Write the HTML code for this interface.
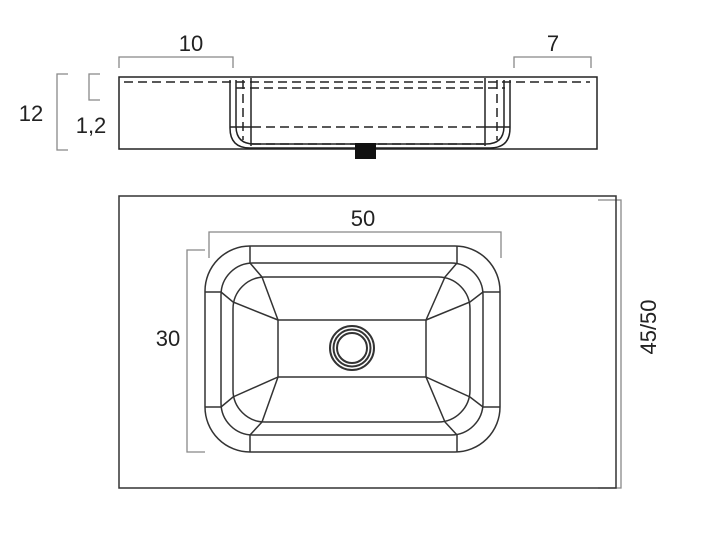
<!DOCTYPE html>
<html><head><meta charset="utf-8"><style>
html,body{margin:0;padding:0;background:#fff}
svg{display:block}
text{font-family:"Liberation Sans",sans-serif;fill:#222}
</style></head><body>
<svg width="720" height="540" viewBox="0 0 720 540" xmlns="http://www.w3.org/2000/svg">
<g fill="none" stroke="#888" stroke-width="1.3">
<polyline points="119,68 119,57 233,57 233,68"/>
<polyline points="514,68 514,57 591,57 591,68"/>
<polyline points="68,74 57,74 57,150 68,150"/>
<polyline points="100,74 89,74 89,100 100,100"/>
<polyline points="209,258 209,232 501,232 501,258"/>
<polyline points="205,250 187,250 187,452 205,452"/>
<polyline points="598,200 621,200 621,488 598,488"/>
</g>
<text x="191" y="51" font-size="22" text-anchor="middle">10</text>
<text x="553" y="51" font-size="22" text-anchor="middle">7</text>
<text x="31" y="121" font-size="22" text-anchor="middle">12</text>
<text x="91" y="133" font-size="22" text-anchor="middle">1,2</text>
<text x="363" y="226" font-size="22" text-anchor="middle">50</text>
<text x="168" y="346" font-size="22" text-anchor="middle">30</text>
<text x="656" y="327" font-size="22" text-anchor="middle" transform="rotate(-90 656 327)">45/50</text>
<!-- side view -->
<g fill="none" stroke="#222" stroke-width="1.5">
<rect x="119" y="77" width="478" height="72"/>
<path d="M230,80 V128 Q230,148 250,148 H490 Q510,148 510,128 V80"/>
<path d="M236,80 V126 Q236,144 254,144 H486 Q504,144 504,126 V80"/>
<line x1="251" y1="78" x2="251" y2="146"/>
<line x1="485" y1="78" x2="485" y2="146"/>
<line x1="230" y1="127" x2="252" y2="127"/><line x1="484" y1="127" x2="510" y2="127"/>
</g>
<g fill="none" stroke="#222" stroke-width="1.5" stroke-dasharray="9,5">
<line x1="124" y1="82" x2="590" y2="82"/>
<line x1="236" y1="88" x2="505" y2="88"/>
<line x1="252" y1="127" x2="484" y2="127"/>
<line x1="252" y1="144" x2="484" y2="144"/>
<line x1="243" y1="80" x2="243" y2="140"/>
<line x1="497" y1="80" x2="497" y2="140"/>
</g>
<rect x="355" y="143" width="21" height="16" fill="#111"/>
<!-- top view -->
<g fill="none" stroke="#333" stroke-width="1.5">
<rect x="119" y="196" width="497" height="292"/>
<rect x="205" y="246" width="295" height="206" rx="45"/>
<rect x="221" y="263" width="262" height="172" rx="32"/>
<rect x="233" y="277" width="237" height="145" rx="32"/>
<path d="M278,320 L426,320 L426,377 L278,377 Z"/>
<line x1="250" y1="246" x2="250" y2="263"/><line x1="457" y1="246" x2="457" y2="263"/>
<line x1="250" y1="452" x2="250" y2="435"/><line x1="457" y1="452" x2="457" y2="435"/>
<line x1="205" y1="292" x2="221" y2="292"/><line x1="483" y1="292" x2="500" y2="292"/>
<line x1="205" y1="407" x2="221" y2="407"/><line x1="483" y1="407" x2="500" y2="407"/>
<polyline points="250,263 262,277 278,320"/>
<polyline points="221,292 233,302 278,320"/>
<polyline points="457,263 445,277 426,320"/>
<polyline points="483,292 470,302 426,320"/>
<polyline points="250,435 262,422 278,377"/>
<polyline points="221,407 233,397 278,377"/>
<polyline points="457,435 445,422 426,377"/>
<polyline points="483,407 470,397 426,377"/>
</g>
<g fill="none" stroke="#333" stroke-width="2">
<circle cx="352" cy="348" r="22"/>
<circle cx="352" cy="348" r="18.5"/>
<circle cx="352" cy="348" r="15"/>
</g>
</svg>
</body></html>
